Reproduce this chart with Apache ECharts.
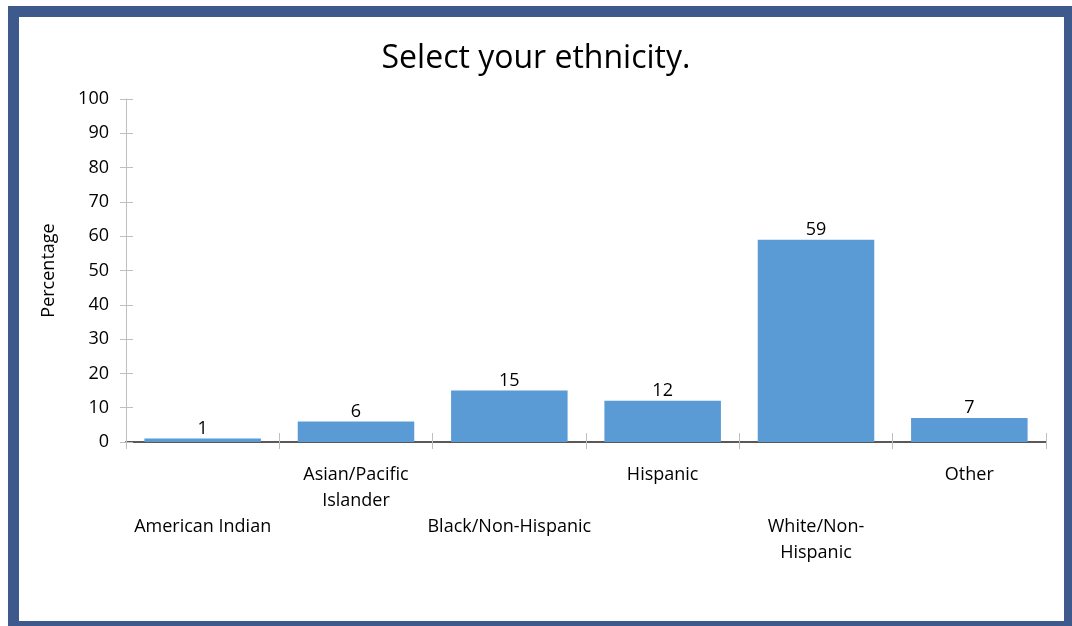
<!DOCTYPE html>
<html>
<head>
<meta charset="utf-8">
<script src="https://cdn.jsdelivr.net/npm/echarts@6/dist/echarts.min.js"></script>
<style>
  html, body { margin: 0; padding: 0; background: #ffffff; }
  #frame {
    position: absolute; left: 8px; top: 6px; width: 1064px; height: 620px;
    box-sizing: border-box; border: 11px solid #3E5A8D; border-right-width: 8px; border-bottom-width: 5px;
    background: #ffffff;
  }
  #chart { position: absolute; left: 0; top: 0; width: 1072px; height: 626px; }
</style>
</head>
<body>
<div id="frame"></div>
<div id="chart"></div>
<script>
// Survey responses, percent of respondents
const categories = ['American Indian', 'Asian/Pacific Islander', 'Black/Non-Hispanic', 'Hispanic', 'White/Non-Hispanic', 'Other'];
const percentages = [1, 6, 15, 12, 59, 7];
const axisLabelsWrapped = ['American Indian', 'Asian/Pacific\nIslander', 'Black/Non-Hispanic', 'Hispanic', 'White/Non-\nHispanic', 'Other'];

const FONT = '"Open Sans", "Noto Sans", sans-serif';
const chart = echarts.init(document.getElementById('chart'));

const yBase = { type: 'value', min: 0, max: 100, interval: 10, position: 'left' };
const xBase = { type: 'category', data: categories, position: 'bottom' };

chart.setOption({
  animation: false,
  title: {
    text: 'Select your ethnicity.',
    left: 'center', top: 38,
    textStyle: { fontFamily: FONT, fontSize: 32, fontWeight: 'normal', color: '#000' }
  },
  grid: { left: 126, right: 26, top: 99, bottom: 184 },
  xAxis: [
    Object.assign({}, xBase, {
      axisLine: { lineStyle: { color: '#595959', width: 2 } },
      axisTick: { show: true, length: 7, lineStyle: { color: '#BFBFBF' } },
      axisLabel: {
        interval: 0, margin: 20, lineHeight: 26,
        fontFamily: FONT, fontSize: 18, color: '#000',
        formatter: function (v, i) { return (i % 2 === 0 ? '\n\n' : '') + axisLabelsWrapped[i]; }
      }
    }),
    Object.assign({}, xBase, {
      axisLine: { show: false },
      axisTick: { show: true, inside: true, length: 9, lineStyle: { color: '#BFBFBF' } },
      axisLabel: { show: false }
    })
  ],
  yAxis: [
    Object.assign({}, yBase, {
      name: 'Percentage', nameLocation: 'middle', nameGap: 68, nameRotate: 90,
      nameTextStyle: { fontFamily: FONT, fontSize: 18, color: '#000' },
      axisLine: { show: true, lineStyle: { color: '#BFBFBF' } },
      axisTick: { show: true, length: 6, lineStyle: { color: '#BFBFBF' } },
      axisLabel: { margin: 17, fontFamily: FONT, fontSize: 18, color: '#000' },
      splitLine: { show: false }
    }),
    Object.assign({}, yBase, {
      axisLine: { show: false },
      axisTick: { show: true, inside: true, length: 7, lineStyle: { color: '#BFBFBF' } },
      axisLabel: { show: false },
      splitLine: { show: false }
    })
  ],
  series: [{
    type: 'bar',
    data: percentages,
    xAxisIndex: 0, yAxisIndex: 0,
    barCategoryGap: '24%',
    itemStyle: { color: '#5B9BD5' },
    label: {
      show: true, position: 'top', distance: 1,
      fontFamily: FONT, fontSize: 18, color: '#000'
    }
  }]
});
</script>
</body>
</html>
